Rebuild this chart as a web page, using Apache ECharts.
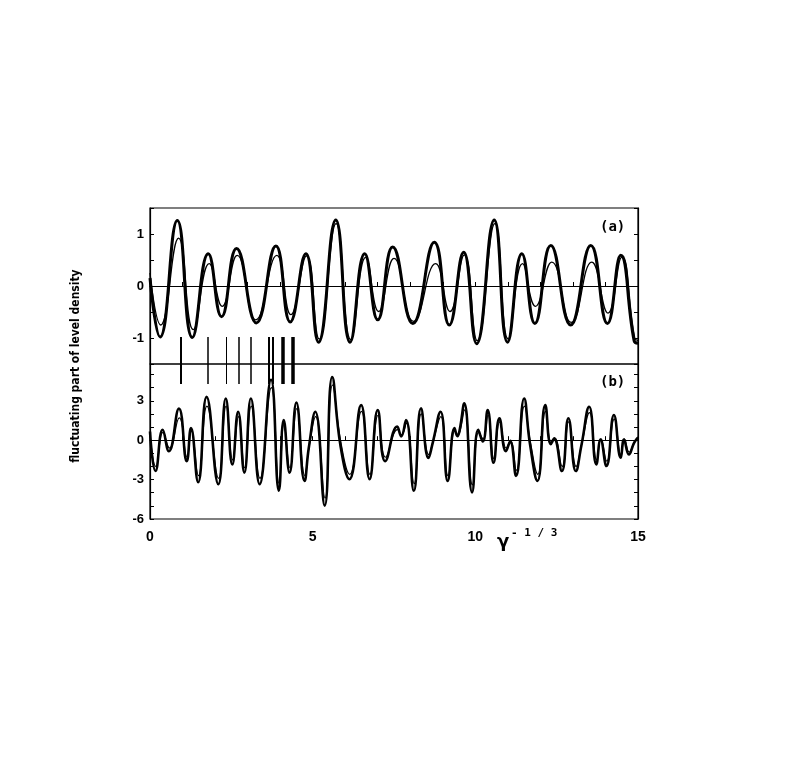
<!DOCTYPE html>
<html>
<head>
<meta charset="utf-8">
<script src="https://cdn.jsdelivr.net/npm/echarts@6/dist/echarts.min.js"></script>
<style>html,body{margin:0;padding:0;background:#fff}#c{width:795px;height:784px}</style>
</head>
<body>
<div id="c"></div>
<script>
// ---------- data ----------
var xTickLabels = [0, 5, 10, 15];
var yTickLabelsA = [-1, 0, 1];
var yTickLabelsB = [-6, -3, 0, 3];

// panel (a): [x, value]
var aThick = [[0,0.15],[0.31,-0.98],[0.84,1.26],[1.30,-0.99],[1.79,0.62],[2.20,-0.59],[2.66,0.72],[3.27,-0.71],[3.87,0.77],[4.31,-0.69],[4.79,0.62],[5.18,-1.08],[5.71,1.27],[6.15,-1.08],[6.60,0.62],[7.00,-0.65],[7.46,0.75],[8.08,-0.72],[8.74,0.84],[9.20,-0.75],[9.64,0.65],[10.04,-1.11],[10.58,1.27],[10.99,-1.08],[11.43,0.62],[11.83,-0.72],[12.32,0.78],[12.93,-0.75],[13.55,0.78],[14.06,-0.72],[14.47,0.59],[14.88,-1.05],[15,-1.1]];
var aThin = [[0,0.25],[0.33,-0.75],[0.88,0.92],[1.33,-0.84],[1.82,0.43],[2.22,-0.39],[2.68,0.59],[3.25,-0.65],[3.90,0.59],[4.33,-0.55],[4.81,0.58],[5.20,-1.02],[5.72,1.2],[6.17,-1.03],[6.63,0.55],[7.03,-0.49],[7.50,0.53],[8.10,-0.68],[8.78,0.43],[9.22,-0.49],[9.66,0.6],[10.06,-1.05],[10.60,1.2],[11.01,-1.02],[11.45,0.43],[11.85,-0.39],[12.35,0.46],[12.95,-0.7],[13.58,0.46],[14.08,-0.52],[14.50,0.55],[14.90,-1.0],[15,-1.05]];

// panel (b): [x, value]
var bThick = [[0,0.66],[0.17,-2.35],[0.39,0.79],[0.58,-0.84],[0.89,2.4],[1.13,-1.6],[1.26,0.92],[1.48,-3.2],[1.74,3.3],[2.10,-3.35],[2.33,3.17],[2.53,-1.85],[2.71,2.17],[2.90,-2.47],[3.10,3.17],[3.37,-3.35],[3.72,4.6],[3.96,-3.85],[4.11,1.54],[4.29,-2.47],[4.50,2.87],[4.75,-3.1],[4.88,-0.6],[5.08,2.17],[5.37,-4.98],[5.60,4.8],[5.86,-0.5],[6.13,-2.97],[6.49,2.67],[6.75,-2.97],[7.00,2.29],[7.23,-1.6],[7.60,1.04],[7.72,0.29],[7.87,1.54],[8.11,-3.85],[8.33,2.42],[8.56,-1.35],[8.69,-0.2],[8.93,2.17],[9.15,-3.1],[9.36,0.92],[9.45,0.3],[9.52,0.8],[9.66,2.8],[9.90,-3.97],[10.09,0.79],[10.23,-0.1],[10.38,2.29],[10.56,-1.72],[10.74,1.67],[10.94,-0.84],[11.07,-0.1],[11.25,-2.72],[11.50,3.17],[11.68,-0.3],[11.91,-3.1],[12.15,2.67],[12.32,-0.3],[12.42,0.1],[12.66,-2.35],[12.86,1.67],[13.09,-2.35],[13.26,-0.4],[13.50,2.54],[13.72,-1.84],[13.85,0.04],[14.03,-1.97],[14.26,1.92],[14.47,-1.34],[14.57,0.04],[14.72,-1.09],[14.88,-0.2],[15,0.2]];
var bThin = [[0,0.5],[0.18,-2.0],[0.40,0.6],[0.60,-0.6],[0.90,1.7],[1.14,-1.3],[1.27,0.7],[1.49,-2.7],[1.75,2.6],[2.11,-2.9],[2.34,2.6],[2.54,-1.5],[2.72,1.8],[2.91,-2.1],[3.11,2.6],[3.38,-2.9],[3.73,4.0],[3.97,-3.3],[4.12,1.2],[4.30,-2.1],[4.51,2.4],[4.76,-2.7],[4.89,-0.5],[5.09,1.8],[5.38,-4.4],[5.61,4.2],[5.87,-0.2],[6.14,-2.6],[6.50,2.2],[6.76,-2.6],[7.01,1.9],[7.24,-1.3],[7.61,0.8],[7.73,0.4],[7.88,1.3],[8.12,-3.3],[8.34,2.0],[8.57,-1.1],[8.70,-0.1],[8.94,1.8],[9.16,-2.7],[9.37,0.7],[9.46,0.4],[9.53,0.7],[9.67,2.3],[9.91,-3.4],[10.10,0.6],[10.24,0.1],[10.39,1.9],[10.57,-1.4],[10.75,1.4],[10.95,-0.6],[11.08,0.0],[11.26,-2.3],[11.51,2.6],[11.69,-0.1],[11.92,-2.6],[12.16,2.2],[12.33,-0.1],[12.43,0.2],[12.67,-2.0],[12.87,1.4],[13.10,-2.0],[13.27,-0.3],[13.51,2.1],[13.73,-1.5],[13.86,0.1],[14.04,-1.6],[14.27,1.6],[14.48,-1.1],[14.58,0.1],[14.73,-0.9],[14.89,-0.1],[15,0.25]];

// positions of the level markers between the panels
var levelX = [0.94, 1.77, 2.35, 2.74, 3.10, 3.66, 3.77, 4.09, 4.40];

// ---------- chart ----------
var levelWidths = [2, 1.5, 1, 1.5, 1.5, 2, 2, 3.5, 3.5];
var FONT = 'Liberation Sans, Arial, sans-serif';
var chart = echarts.init(document.getElementById('c'), null, {renderer: 'canvas'});

function xAxisCommon(grid, labels) {
  return {
    gridIndex: grid, type: 'value', min: 0, max: 15, interval: 1,
    axisLine: {show: true, lineStyle: {color: '#000', width: 1.2}},
    axisTick: {show: true, inside: true, length: 4, lineStyle: {color: '#000'}},
    splitLine: {show: false},
    axisLabel: labels ? {
      show: true, margin: 11, color: '#000', fontFamily: FONT, fontWeight: 'bold', fontSize: 14,
      formatter: function (v) { return xTickLabels.indexOf(v) >= 0 ? String(v) : ''; }
    } : {show: false}
  };
}
function yAxisCommon(grid, min, max, interval, labels, pos) {
  return {
    gridIndex: grid, type: 'value', min: min, max: max, interval: interval, position: pos,
    axisLine: {show: true, lineStyle: {color: '#000', width: 1.2}},
    axisTick: {show: true, inside: true, length: 4, lineStyle: {color: '#000'}},
    splitLine: {show: false},
    axisLabel: labels ? {
      show: true, margin: 6, color: '#000', fontFamily: FONT, fontWeight: 'bold', fontSize: 13,
      formatter: function (v) {
        var r = Math.round(v * 100) / 100;
        return labels.indexOf(r) >= 0 ? String(r) : '';
      }
    } : {show: false}
  };
}

var option = {
  animation: false,
  backgroundColor: '#fff',
  grid: [
    {left: 150, top: 208, width: 488, height: 156, show: true, borderColor: '#000', borderWidth: 1.2, backgroundColor: 'transparent'},
    {left: 150, top: 364, width: 488, height: 155, show: true, borderColor: '#000', borderWidth: 1.2, backgroundColor: 'transparent'},
    {left: 150, top: 337, width: 488, height: 47, show: false}
  ],
  xAxis: [
    xAxisCommon(0, false),
    xAxisCommon(1, true),
    {gridIndex: 2, type: 'value', min: 0, max: 15, show: false}
  ],
  yAxis: [
    yAxisCommon(0, -1.5, 1.5, 0.5, yTickLabelsA, 'left'),
    yAxisCommon(1, -6, 5.8, 1, yTickLabelsB, 'left'),
    {gridIndex: 2, type: 'value', min: 0, max: 1, show: false},
    yAxisCommon(0, -1.5, 1.5, 0.5, null, 'right'),
    yAxisCommon(1, -6, 5.8, 1, null, 'right')
  ],
  series: [
    {
      type: 'line', xAxisIndex: 0, yAxisIndex: 0, data: aThick, smooth: 0.5, showSymbol: false,
      lineStyle: {color: '#000', width: 3}, z: 3,
      markLine: {silent: true, symbol: 'none', label: {show: false},
        lineStyle: {color: '#000', width: 1, type: 'solid'}, data: [{yAxis: 0}]}
    },
    {type: 'line', xAxisIndex: 0, yAxisIndex: 0, data: aThin, smooth: 0.5, showSymbol: false,
      lineStyle: {color: '#000', width: 1.3}, z: 3},
    {
      type: 'line', xAxisIndex: 1, yAxisIndex: 1, data: bThick, smooth: 0.5, showSymbol: false,
      lineStyle: {color: '#000', width: 2.6}, z: 3,
      markLine: {silent: true, symbol: 'none', label: {show: false},
        lineStyle: {color: '#000', width: 1, type: 'solid'}, data: [{yAxis: 0}]}
    },
    {type: 'line', xAxisIndex: 1, yAxisIndex: 1, data: bThin, smooth: 0.5, showSymbol: false,
      lineStyle: {color: '#000', width: 1.2}, z: 3},
    {
      type: 'line', xAxisIndex: 2, yAxisIndex: 2, showSymbol: false,
      data: levelX.map(function (x) { return [x, 0.5]; }),
      lineStyle: {opacity: 0},
      markLine: {
        silent: true, symbol: 'none', label: {show: false},
        data: levelX.map(function (x, i) {
          return {xAxis: x, lineStyle: {color: '#000', width: levelWidths[i], type: 'solid'}};
        })
      }
    }
  ],
  graphic: [
    {type: 'text', left: 600, top: 220, style: {text: '(a)', font: 'bold 14px "DejaVu Sans Mono", monospace', fill: '#000'}},
    {type: 'text', left: 600, top: 375, style: {text: '(b)', font: 'bold 14px "DejaVu Sans Mono", monospace', fill: '#000'}},
    {type: 'text', left: 497, top: 533, style: {text: 'γ', font: 'bold 18px "DejaVu Sans", sans-serif', fill: '#000'}},
    {type: 'text', left: 511, top: 528, style: {text: '- 1 / 3', font: 'bold 11px "DejaVu Sans Mono", monospace', fill: '#000'}},
    {type: 'text', x: 76, y: 366, rotation: Math.PI / 2,
      style: {text: 'fluctuating part of level density', align: 'center', verticalAlign: 'middle',
        font: 'bold 12px "Liberation Sans Narrow", "DejaVu Sans Condensed", "Liberation Sans", sans-serif', fill: '#000'}}
  ]
};
chart.setOption(option);
</script>
</body>
</html>
